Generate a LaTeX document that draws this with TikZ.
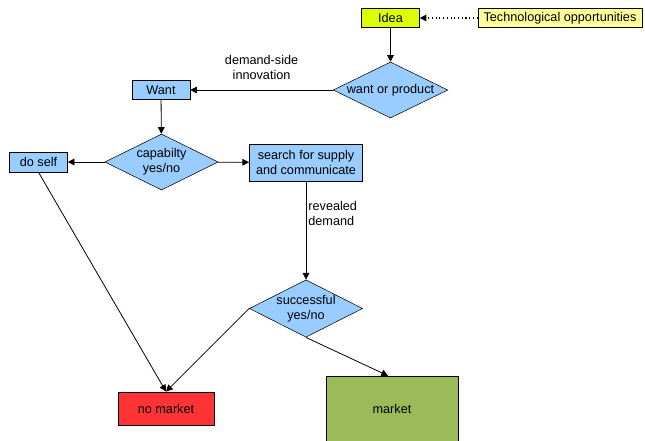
\documentclass[tikz,border=0pt]{standalone}
\usepackage{fontspec}
\setmainfont{Liberation Sans}
\usetikzlibrary{arrows.meta, positioning, shapes.geometric}
\definecolor{cblue}{RGB}{153,204,255}
\definecolor{cidea}{RGB}{221,255,0}
\definecolor{ctech}{RGB}{255,255,153}
\definecolor{cred}{RGB}{255,51,51}
\definecolor{cgreen}{RGB}{155,187,89}

\begin{document}
\begin{tikzpicture}[
    x=0.75pt, y=-0.75pt,
    >={Triangle[length=5pt, width=5pt]},
    every node/.style={font=\fontsize{9.5}{11.2}\selectfont},
    flowbox/.style={draw, fill=cblue, minimum width=43.5pt, minimum height=14.5pt, inner sep=2pt, align=center},
    decision/.style={draw, diamond, aspect=2, fill=cblue, inner sep=0pt, minimum width=85pt, minimum height=42pt, align=center},
    link/.style={->, line width=0.6pt},
]
    \clip (0,0) rectangle (645,440);

    % Idea and its source
    \node[flowbox, fill=cidea] (idea) at (390.5,18) {Idea};
    \node[flowbox, fill=ctech, minimum width=123pt] (tech) at (560,18) {Technological opportunities};
    \node[decision, minimum width=86pt] (wop) at (390.5,90) {want or product};

    \draw[->, dotted, line width=0.8pt] (tech) -- (idea);
    \draw[link] (idea) -- (wop);

    % Demand side
    \node[flowbox] (want) at (161,90) {Want};
    \draw[link] (wop) -- node[above=4pt, align=center] {demand-side\\innovation} (want);

    \node[decision] (cap) at (161.5,162) {capabilty\\yes/no};
    \node[flowbox, minimum height=15pt] (doself) at (38.5,162) {do self};
    \node[flowbox, minimum width=85pt, minimum height=28pt] (search) at (306,162.5) {search for supply\\and communicate};

    \draw[link] (want) -- (cap);
    \draw[link] (cap) -- (doself);
    \draw[link] (cap) -- (search);

    % Outcome
    \node[decision, minimum height=43pt] (succ) at (306,308.5) {successful\\yes/no};
    \draw[link] (search) -- node[right, pos=0.33, align=left, inner sep=1.5pt] {revealed\\demand} (succ);

    \node[flowbox, fill=cred, minimum width=72pt, minimum height=25pt] (nomarket) at (166,408.5) {no market};
    \node[flowbox, fill=cgreen, minimum width=99pt, minimum height=49.5pt] (market) at (392,409) {market};

    \draw[link] (doself.south) -- (nomarket.north);
    \draw[link] (succ.west) -- (nomarket.north);
    \draw[link] (succ.south) -- ([xshift=-3pt]market.north);
\end{tikzpicture}
\end{document}
